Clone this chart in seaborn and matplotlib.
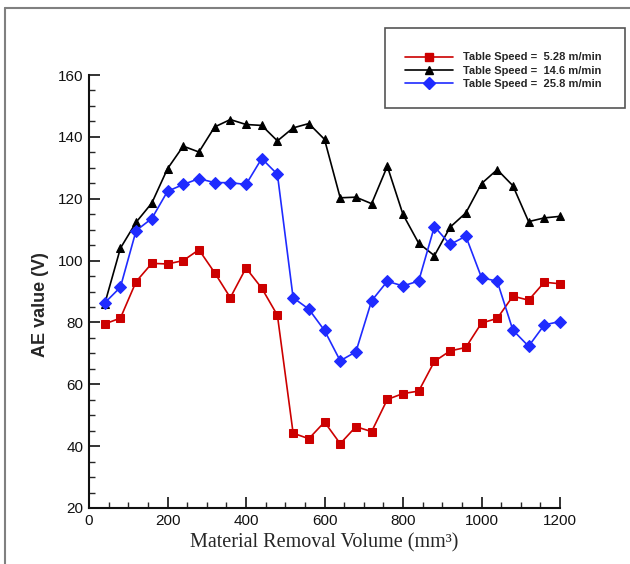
import pandas as pd
import matplotlib.pyplot as plt
import seaborn as sns
from matplotlib.ticker import MultipleLocator
from matplotlib.lines import Line2D
from matplotlib.patches import Rectangle

volume = [40, 80, 120, 160, 200, 240, 280, 320, 360, 400, 440, 480, 520, 560, 600,
          640, 680, 720, 760, 800, 840, 880, 920, 960, 1000, 1040, 1080, 1120, 1160, 1200]

ae_528 = [79.5, 81.4, 93.2, 99.1, 98.9, 100.0, 103.5, 96.1, 88.0, 97.6, 91.1, 82.3, 44.2, 42.4, 47.8,
          40.8, 46.3, 44.7, 55.1, 57.0, 57.8, 67.4, 70.8, 71.9, 79.8, 81.3, 88.5, 87.2, 93.0, 92.5]
ae_146 = [86.0, 104.0, 112.4, 118.6, 129.7, 137.0, 135.1, 143.2, 145.6, 144.0, 143.7, 138.7, 142.9, 144.3, 139.2,
          120.3, 120.5, 118.4, 130.5, 114.9, 105.6, 101.6, 110.8, 115.4, 124.9, 129.4, 124.2, 112.6, 113.8, 114.3]
ae_258 = [86.3, 91.4, 109.7, 113.6, 122.4, 124.6, 126.5, 125.2, 125.2, 124.6, 133.0, 127.9, 88.0, 84.3, 77.4,
          67.6, 70.5, 87.0, 93.3, 91.8, 93.4, 111.0, 105.2, 107.9, 94.5, 93.3, 77.5, 72.3, 79.2, 80.3]

labels = ['Table Speed =  5.28 m/min', 'Table Speed =  14.6 m/min', 'Table Speed =  25.8 m/min']
colors = ['#cc0000', '#000000', '#1f2bff']
markers = ['s', '^', 'D']
msizes = [5.2, 5.5, 6.0]

sns.set_style("ticks")
plt.rcParams['font.family'] = ['Liberation Sans', 'DejaVu Sans']

fig = plt.figure(figsize=(6.3, 5.64), dpi=100)
ax = fig.add_axes([0.1413, 0.0993, 0.7476, 0.7677])

series = [ae_528, ae_146, ae_258]
for vals, lab, c, m, s in zip(series, labels, colors, markers, msizes):
    df = pd.DataFrame({'x': volume, 'y': vals})
    sns.lineplot(data=df, x='x', y='y', ax=ax, color=c, marker=m, markersize=s,
                 markeredgecolor=c, linewidth=1.2, label=lab, legend=False, clip_on=False)

ax.set_xlim(0, 1200)
ax.set_ylim(20, 160)
ax.xaxis.set_major_locator(MultipleLocator(200))
ax.xaxis.set_minor_locator(MultipleLocator(50))
ax.yaxis.set_major_locator(MultipleLocator(20))
ax.yaxis.set_minor_locator(MultipleLocator(5))
ax.tick_params(which='major', direction='in', length=8, width=1.2, labelsize=11, pad=4, colors='#111111')
ax.tick_params(which='minor', direction='in', length=4, width=1.0)
sns.despine(ax=ax)
for sp in ['left', 'bottom']:
    ax.spines[sp].set_linewidth(1.5)
    ax.spines[sp].set_color('#111111')

ax.set_ylabel('AE value (V)', fontsize=13, fontweight='bold')
ax.yaxis.set_label_coords(-0.084, 0.47)
ax.set_xlabel('Material Removal Volume (mm³)', fontsize=14.5, family=['Liberation Serif', 'DejaVu Serif'],
              labelpad=4)

# legend box drawn larger than the entries, like the original
fig.patches.append(Rectangle((0.611, 0.809), 0.381, 0.141, transform=fig.transFigure,
                             fill=False, edgecolor='#555555', linewidth=1.2))
handles = [Line2D([], [], color=c, marker=m, markersize=s, linewidth=1.2)
           for c, m, s in zip(colors, markers, msizes)]
fig.legend(handles, labels, loc='upper left', bbox_to_anchor=(0.643, 0.907), frameon=False,
           prop={'weight': 'bold', 'size': 8}, handlelength=4.3, handletextpad=0.9,
           labelspacing=0.3, borderpad=0, borderaxespad=0)

# outer frame of the figure
fig.add_artist(Line2D([5 / 630, 5 / 630], [0, 1 - 8 / 564], transform=fig.transFigure,
                      color='#808080', linewidth=1.5))
fig.add_artist(Line2D([5 / 630, 1], [1 - 8 / 564, 1 - 8 / 564], transform=fig.transFigure,
                      color='#808080', linewidth=1.5))

plt.savefig('out.png', dpi=100)
